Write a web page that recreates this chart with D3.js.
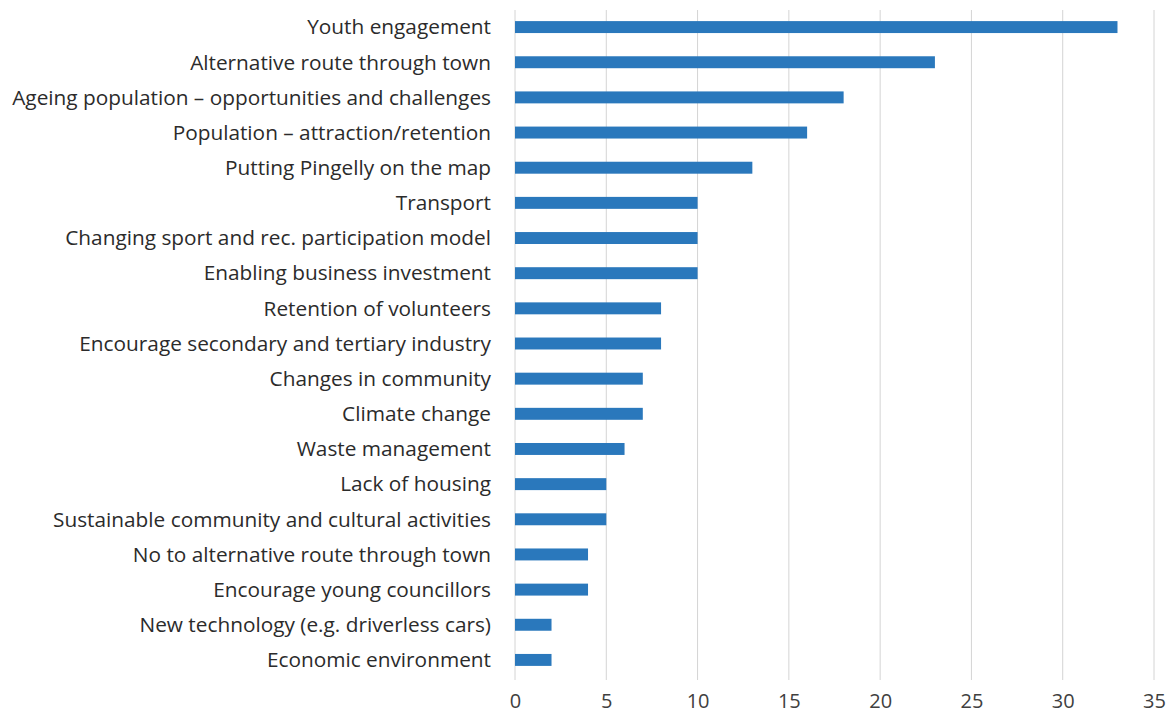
<!DOCTYPE html>
<html lang="en">
<head>
    <meta charset="utf-8">
    <script src="https://cdnjs.cloudflare.com/ajax/libs/d3/7.8.5/d3.min.js"></script>
    <style>
        body { margin: 0; background: #fff; }
        .label { font-family: "Open Sans", sans-serif; font-size: 20.8px; fill: #2b2b2b; }
        .x-axis text { font-family: "Open Sans", sans-serif; font-size: 20px; fill: #404040; }
    </style>
</head>
<body>
<svg id="chart" width="1174" height="718"></svg>
<script>
    // categories top to bottom
    var categories = [
        "Youth engagement",
        "Alternative route through town",
        "Ageing population \u2013 opportunities and challenges",
        "Population \u2013 attraction/retention",
        "Putting Pingelly on the map",
        "Transport",
        "Changing sport and rec. participation model",
        "Enabling business investment",
        "Retention of volunteers",
        "Encourage secondary and tertiary industry",
        "Changes in community",
        "Climate change",
        "Waste management",
        "Lack of housing",
        "Sustainable community and cultural activities",
        "No to alternative route through town",
        "Encourage young councillors",
        "New technology (e.g. driverless cars)",
        "Economic environment"
    ];
    var values = [33, 23, 18, 16, 13, 10, 10, 10, 8, 8, 7, 7, 6, 5, 5, 4, 4, 2, 2];
    var xTicks = [0, 5, 10, 15, 20, 25, 30, 35];

    var svg = d3.select("#chart"),
        margin = {top: 9.5, right: 20, bottom: 40, left: 515};

    var x = d3.scaleLinear()
        .domain([0, 35])
        .range([margin.left, 1154]);

    var y = d3.scaleBand()
        .domain(categories)
        .range([margin.top, 677.5])
        .paddingInner(0.66)
        .paddingOuter(0.33);

    // vertical grid
    svg.append("g")
        .selectAll("line")
        .data(xTicks)
        .join("line")
        .attr("x1", d => x(d))
        .attr("x2", d => x(d))
        .attr("y1", 10)
        .attr("y2", 680)
        .style("stroke", "#d4d4d4")
        .style("stroke-width", 1);

    svg.append("g")
        .selectAll("rect")
        .data(values)
        .join("rect")
        .attr("x", x(0))
        .attr("y", (d, i) => y(categories[i]))
        .attr("width", d => x(d) - x(0))
        .attr("height", y.bandwidth())
        .attr("fill", "#2a78bc");

    svg.append("g")
        .selectAll("text")
        .data(categories)
        .join("text")
        .attr("class", "label")
        .attr("x", 491)
        .attr("y", d => y(d) + y.bandwidth() / 2)
        .attr("dy", "0.35em")
        .attr("text-anchor", "end")
        .text(d => d);

    var xAxis = svg.append("g")
        .attr("class", "x-axis")
        .attr("transform", "translate(0,680)")
        .call(d3.axisBottom(x).tickValues(xTicks).tickSize(0).tickPadding(14));
    xAxis.select(".domain").remove();
</script>
</body>
</html>
